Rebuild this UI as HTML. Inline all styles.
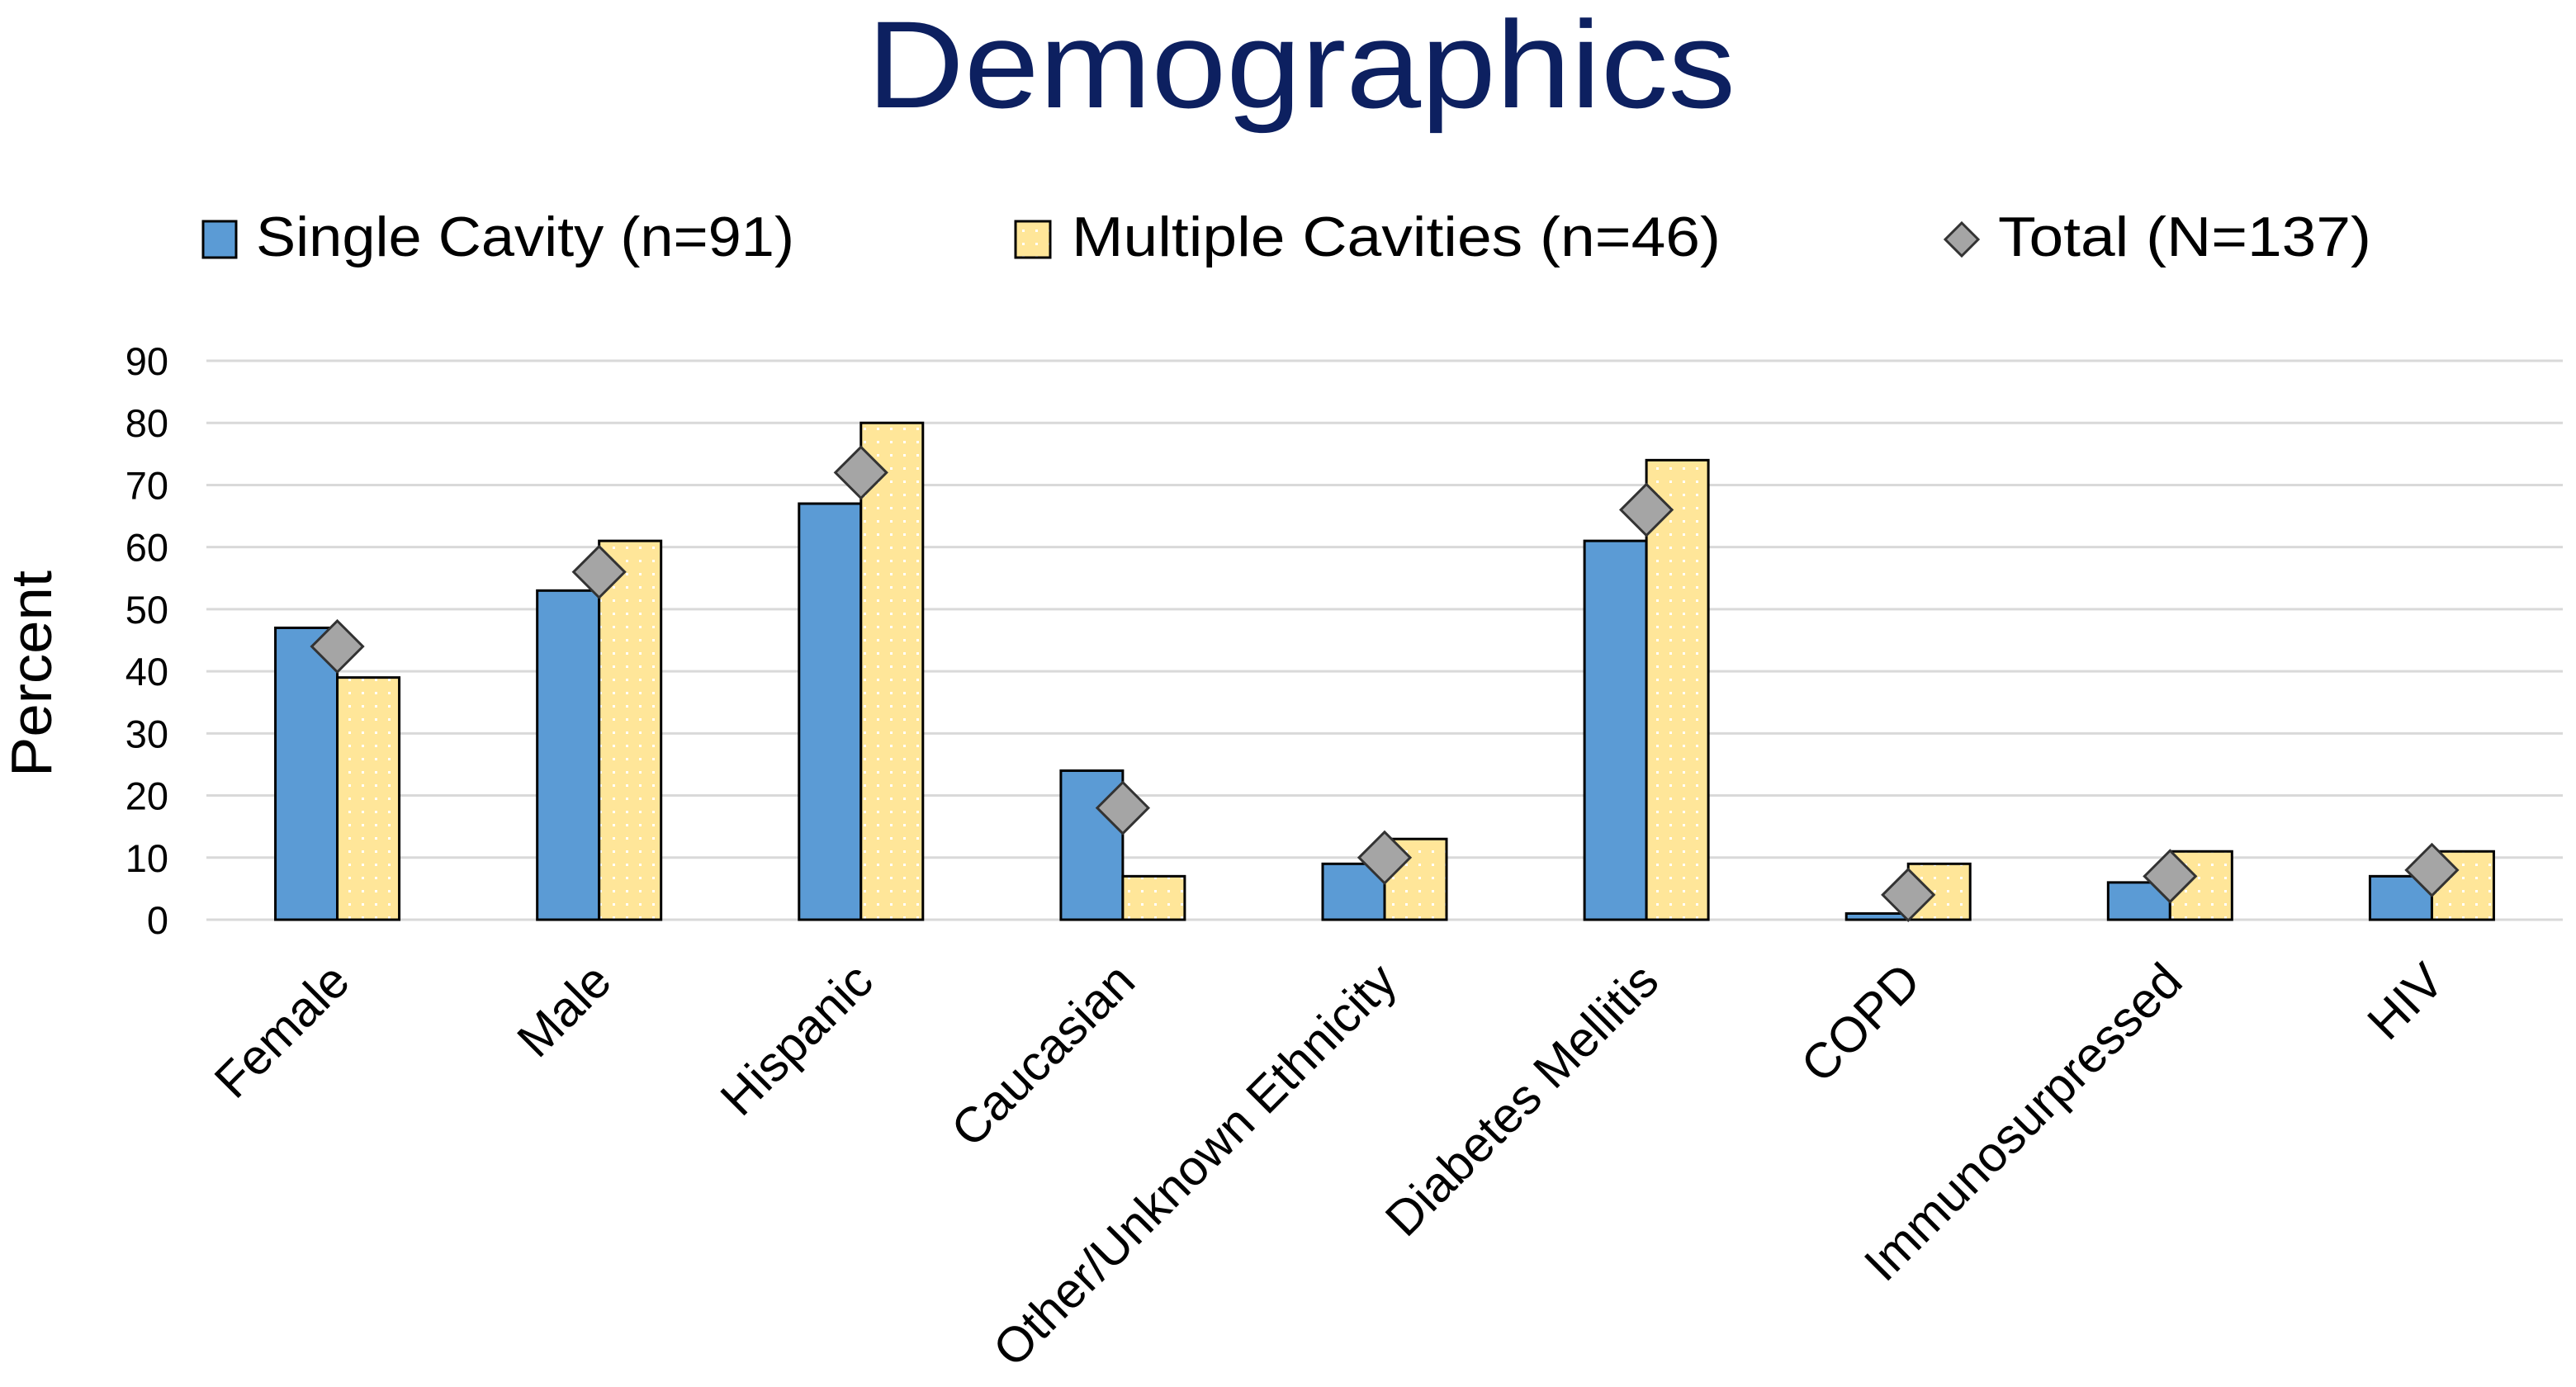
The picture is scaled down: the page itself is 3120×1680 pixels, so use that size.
<!DOCTYPE html>
<html><head><meta charset="utf-8"><style>
html,body{margin:0;padding:0;background:#fff;}
svg{display:block;font-family:"Liberation Sans",sans-serif;}
</style></head><body>
<svg id="chart" width="3120" height="1680" viewBox="0 0 3120 1680" xmlns="http://www.w3.org/2000/svg">
<defs>
<pattern id="dots" width="16" height="16" patternUnits="userSpaceOnUse">
<rect width="16" height="16" fill="#ffe699"/>
<rect x="6" y="6" width="3" height="3" fill="#fff"/>
</pattern>
</defs>
<text x="1576" y="130" text-anchor="middle" font-size="150" fill="#0d2060" textLength="1052" lengthAdjust="spacingAndGlyphs">Demographics</text>
<g>
<g>
<rect x="246" y="268" width="40" height="44" fill="#5b9bd5" stroke="#000" stroke-width="3"/>
<text x="310" y="310" font-size="68" fill="#000" textLength="652" lengthAdjust="spacingAndGlyphs">Single Cavity (n=91)</text>
</g>
<g>
<rect x="1230" y="268" width="42" height="44" fill="url(#dots)" stroke="#000" stroke-width="3"/>
<text x="1298" y="310" font-size="68" fill="#000" textLength="786" lengthAdjust="spacingAndGlyphs">Multiple Cavities (n=46)</text>
</g>
<g>
<polygon points="2376,270 2396,290 2376,310 2356,290" fill="#a5a5a5" stroke="#333" stroke-width="3"/>
<text x="2420" y="310" font-size="68" fill="#000" textLength="452" lengthAdjust="spacingAndGlyphs">Total (N=137)</text>
</g>
</g>
<text transform="translate(62,816) rotate(-90)" text-anchor="middle" font-size="70" fill="#000" textLength="250" lengthAdjust="spacingAndGlyphs">Percent</text>
<g id="grid"></g><g id="yticks"></g><g id="bars"></g><g id="markers"></g><g id="xlabels"></g>
</svg>
<script>
const categories = ["Female","Male","Hispanic","Caucasian","Other/Unknown Ethnicity","Diabetes Mellitis","COPD","Immunosurpressed","HIV"];
const singleCavity = [47,53,67,24,9,61,1,6,7];
const multipleCavities = [39,61,80,7,13,74,9,11,11];
const total = [44,56,72,18,10,66,4,7,8];
const yTicks = [0,10,20,30,40,50,60,70,80,90];

const NS = "http://www.w3.org/2000/svg";
const plotL = 250, plotR = 3104, y0 = 1114, y90 = 437;
const band = (plotR - plotL) / categories.length;
const barW = 75;
function yScale(v){ return y0 - (v / 90) * (y0 - y90); }
function xCenter(i){ return plotL + band * (i + 0.5); }
function mk(tag, attrs, parent){ const e = document.createElementNS(NS, tag); for (const k in attrs) e.setAttribute(k, attrs[k]); parent.appendChild(e); return e; }

const grid = document.getElementById('grid'), yt = document.getElementById('yticks');
yTicks.forEach(t => {
  const l = mk('line', {x1: plotL, x2: plotR, y1: yScale(t), y2: yScale(t), stroke: '#d9d9d9', 'stroke-width': 3}, grid);
  
  
  const tx = mk('text', {x: 204, y: yScale(t) + 17, 'text-anchor': 'end', 'font-size': 47, fill: '#000'}, yt);
  tx.textContent = t;
  
  
});

const bars = document.getElementById('bars'), markers = document.getElementById('markers'), xl = document.getElementById('xlabels');
categories.forEach((c, i) => {
  const cx = xCenter(i);
  const b1 = mk('rect', {x: cx - barW, y: yScale(singleCavity[i]), width: barW, height: y0 - yScale(singleCavity[i]), fill: '#5b9bd5', stroke: '#000', 'stroke-width': 3}, bars);
  
  
  const b2 = mk('rect', {x: cx, y: yScale(multipleCavities[i]), width: barW, height: y0 - yScale(multipleCavities[i]), fill: 'url(#dots)', stroke: '#000', 'stroke-width': 3}, bars);
  
  
  const ty = yScale(total[i]), h = 31;
  const d = mk('polygon', {points: `${cx},${ty-h} ${cx+h},${ty} ${cx},${ty+h} ${cx-h},${ty}`, fill: '#a5a5a5', stroke: '#333', 'stroke-width': 3}, markers);
  
  
  const lx = cx + 18, ly = 1192;
  const t = mk('text', {x: lx, y: ly, 'text-anchor': 'end', 'font-size': 60, fill: '#000', transform: `rotate(-45 ${lx} ${ly})`}, xl);
  t.textContent = c;
  
  
});
</script>
</body></html>
